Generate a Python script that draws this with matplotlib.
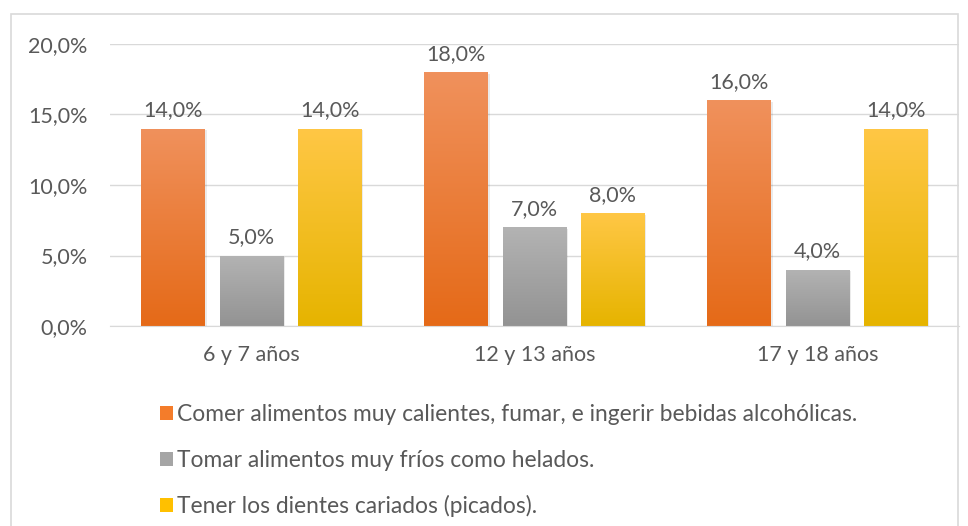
import numpy as np
import matplotlib.pyplot as plt
from matplotlib.patches import Rectangle
from matplotlib.colors import LinearSegmentedColormap

plt.rcParams['font.family'] = ['Lato', 'DejaVu Sans']

categorias = ["6 y 7 años", "12 y 13 años", "17 y 18 años"]
series = [
    "Comer alimentos muy calientes, fumar, e ingerir bebidas alcohólicas.",
    "Tomar alimentos muy fríos como helados.",
    "Tener los dientes cariados (picados).",
]
calientes = [14.0, 18.0, 16.0]
frios = [5.0, 7.0, 4.0]
cariados = [14.0, 8.0, 14.0]
valores = [calientes, frios, cariados]

colores = ["#F47C2A", "#A5A5A5", "#FFC000"]
degradados = [("#F0915C", "#E56A18"), ("#B3B3B3", "#939393"), ("#FFC745", "#E6B400")]
texto = "#595959"
gris = "#D9D9D9"
fs = 15.5

fig = plt.figure(figsize=(9.68, 5.26), dpi=100)
fig.patches.append(Rectangle((11 / 968, -0.01), 947 / 968, 1 - 14 / 526 + 0.01,
                             transform=fig.transFigure, fill=False,
                             edgecolor=gris, linewidth=1.2))
ax = fig.add_axes([110 / 968, 1 - 326 / 526, 849 / 968, 282 / 526])

x = np.arange(len(categorias))
ancho = 0.226
paso = 0.276
for i, (vals, col, (top, bot)) in enumerate(zip(valores, colores, degradados)):
    pos = x + (i - 1) * paso
    barras = ax.bar(pos, vals, ancho, color=col, label=series[i], zorder=2)
    cmap = LinearSegmentedColormap.from_list("g%d" % i, [bot, top])
    for b in barras:
        x0, w, h = b.get_x(), b.get_width(), b.get_height()
        # sombra suave
        ax.add_patch(Rectangle((x0 + 0.006, -0.1), w, h, color="#000000",
                               alpha=0.08, zorder=1.5, linewidth=0))
        grad = np.linspace(0, 1, 100).reshape(-1, 1)
        im = ax.imshow(grad, extent=[x0, x0 + w, 0, h], origin="lower",
                       cmap=cmap, aspect="auto", zorder=2.5)
        im.set_clip_path(b)
        ax.text(x0 + w / 2, h + 0.6, ("%.1f%%" % h).replace(".", ","),
                ha="center", va="bottom", fontsize=fs, color=texto, zorder=3)

ax.set_xlim(-0.5, 2.5)
ax.set_ylim(0, 20)
ax.set_yticks([0, 5, 10, 15, 20])
ax.set_yticklabels([("%.1f%%" % v).replace(".", ",") for v in [0, 5, 10, 15, 20]])
ax.set_xticks(x)
ax.set_xticklabels(categorias)
ax.tick_params(axis="both", length=0, labelsize=fs, colors=texto)
ax.tick_params(axis="y", pad=16)
ax.tick_params(axis="x", pad=14)
ax.yaxis.grid(True, color=gris, linewidth=1, zorder=0)
ax.set_axisbelow(True)
for s in ["top", "right", "left"]:
    ax.spines[s].set_visible(False)
ax.spines["bottom"].set_color(gris)
ax.spines["bottom"].set_zorder(3)

leg = fig.legend(loc="upper left", bbox_to_anchor=(151 / 968, 1 - 395 / 526),
                 frameon=False, fontsize=16.4, handlelength=0.55, handleheight=0.55,
                 handletextpad=0.2, labelspacing=1.08, borderaxespad=0)
for t in leg.get_texts():
    t.set_color(texto)

fig.savefig("out.png", dpi=100)
